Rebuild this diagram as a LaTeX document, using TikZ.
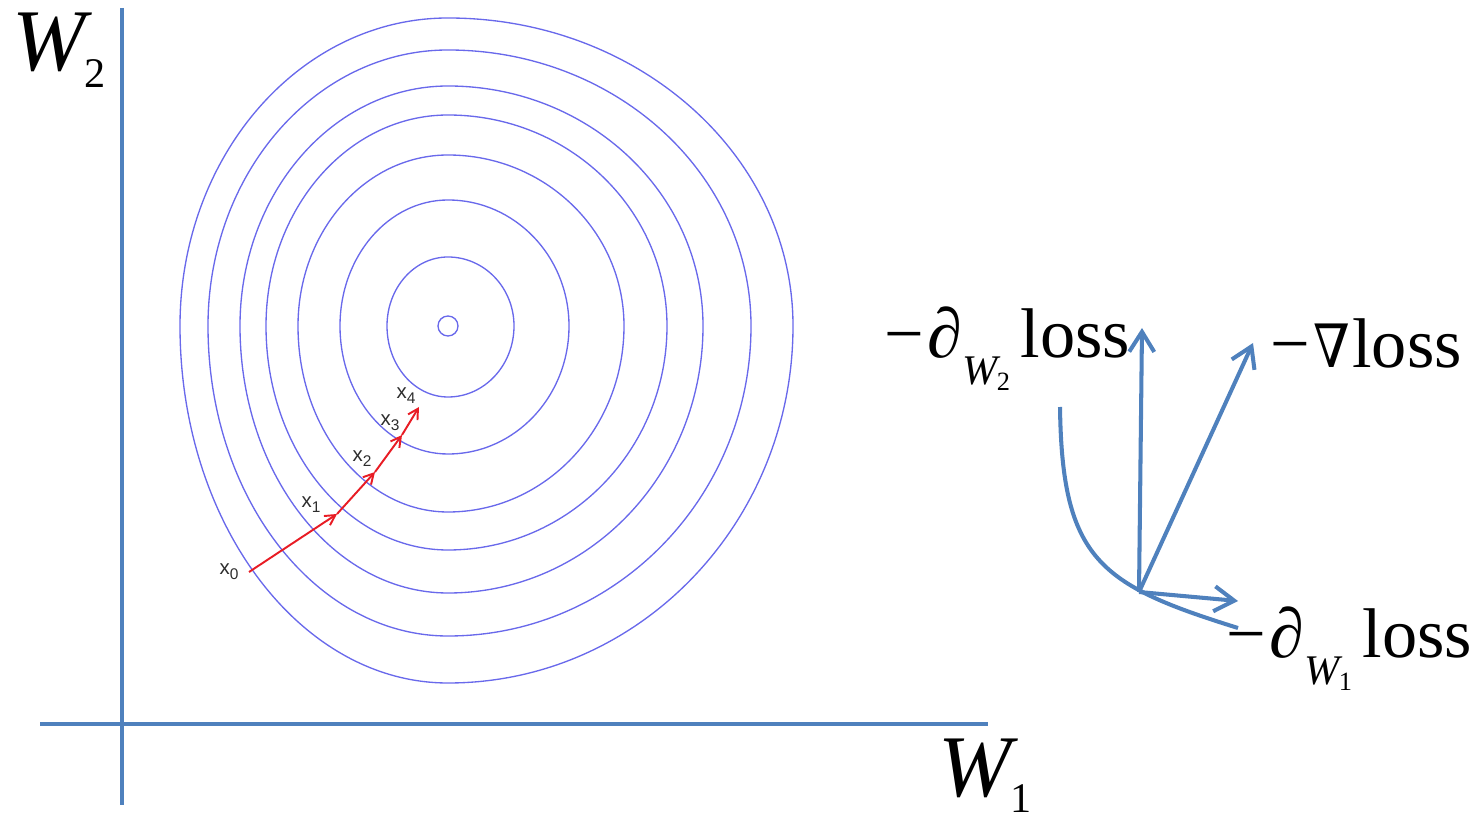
\documentclass[tikz,border=0pt]{standalone}
\usepackage{fontspec}
\usepackage{graphicx}
\setmainfont{Liberation Serif}
\setsansfont{Liberation Sans}
\newfontfamily\nablafont{DejaVu Serif}
\usetikzlibrary{arrows.meta,positioning}

\definecolor{axisblue}{RGB}{79,129,189}
\definecolor{levelblue}{RGB}{105,105,235}
\definecolor{stepred}{RGB}{232,28,36}
\definecolor{steptext}{RGB}{45,45,45}

\newcommand\xsub[1]{x\raisebox{-1.4pt}{\fontsize{4.4}{5}\selectfont #1}}
\newcommand\wsub[1]{\textit{W}\kern-2.4pt\raisebox{-4.8pt}{\fontsize{12}{14}\selectfont #1}}
\newcommand\dpart[1]{−\kern1pt∂\raisebox{-7.6pt}{\fontsize{12}{14}\selectfont\textit{W}\kern-1.2pt\raisebox{-1.6pt}{\fontsize{7.5}{9}\selectfont #1}}\kern3pt loss}

\begin{document}
\begin{tikzpicture}[
    x=0.01cm, y=-0.01cm,
    axisline/.style={axisblue, line width=1.3pt},
    level/.style={levelblue, line width=0.38pt},
    gdstep/.style={stepred, line width=0.55pt, -{Straight Barb[length=0.1cm,width=0.11cm]}},
    steplabel/.style={font=\sffamily\fontsize{5.8}{6}\selectfont, text=steptext, inner sep=0pt},
    biglabel/.style={font=\fontsize{20}{24}\selectfont, inner sep=0pt, anchor=base west},
    axislabel/.style={font=\fontsize{25}{30}\selectfont, inner sep=0pt, anchor=base west},
    vec/.style={axisblue, line width=1.15pt, -{Straight Barb[length=0.2cm,width=0.25cm]}}
]
\useasboundingbox (0,0) rectangle (1476,819);

\coordinate (c) at (448,326);
\foreach \l/\r/\t/\b in {10/10/10/10, 61/66/69/71, 108/121/126/128, 150/176/171/186,
    182/219/211/224, 208/255/240/267, 240/303/276/310, 268/345/308/357}
{
  \draw[level] (c) ++(\r,0)
    arc[start angle=0, end angle=90, x radius=\r, y radius=\b]
    arc[start angle=90, end angle=180, x radius=\l, y radius=\b]
    arc[start angle=180, end angle=270, x radius=\l, y radius=\t]
    arc[start angle=270, end angle=360, x radius=\r, y radius=\t] -- cycle;
}

\draw[axisline] (122,8) -- (122,805);
\draw[axisline] (40,724) -- (988,724);
\node[axislabel] (w2) at (12,71) {\wsub{2}};
\node[axislabel] (w1) at (938,796) {\wsub{1}};

\coordinate (x0) at (249,572);
\coordinate (x1) at (337,514);
\coordinate (x2) at (375,472);
\coordinate (x3) at (402,435);
\coordinate (x4) at (419,407);
\draw[gdstep] (x0) -- (x1);
\draw[gdstep] (x1) -- (x2);
\draw[gdstep] (x2) -- (x3);
\draw[gdstep] (x3) -- (x4);
\node[steplabel] (l0) at (229,572) {\xsub{0}};
\node[steplabel] (l1) at (311,505) {\xsub{1}};
\node[steplabel] (l2) at (362,459) {\xsub{2}};
\node[steplabel] (l3) at (390,423) {\xsub{3}};
\node[steplabel] (l4) at (406,396) {\xsub{4}};

\coordinate (o) at (1139,592);
\coordinate (up) at (1142,328);
\coordinate (grad) at (1253,343);
\coordinate (side) at (1238,601);
\coordinate (cs) at (1060,407);
\coordinate (ce) at (1238,628);
\draw[axisblue, line width=1.15pt] (cs) .. controls (1062,560) and (1100,585) .. (ce);
\draw[vec] (o) -- (up);
\draw[vec] (o) -- (grad);
\draw[vec] (o) -- (side);

\node[biglabel] (dw2) at (884,358) {\dpart{2}};
\node[biglabel] (ngrad) at (1270,368) {−\kern1pt{\nablafont\fontsize{17}{20}\selectfont\scalebox{0.88}[1]{∇}}\kern0.5pt loss};
\node[biglabel] (dw1) at (1226,658) {\dpart{1}};
\end{tikzpicture}
\end{document}
